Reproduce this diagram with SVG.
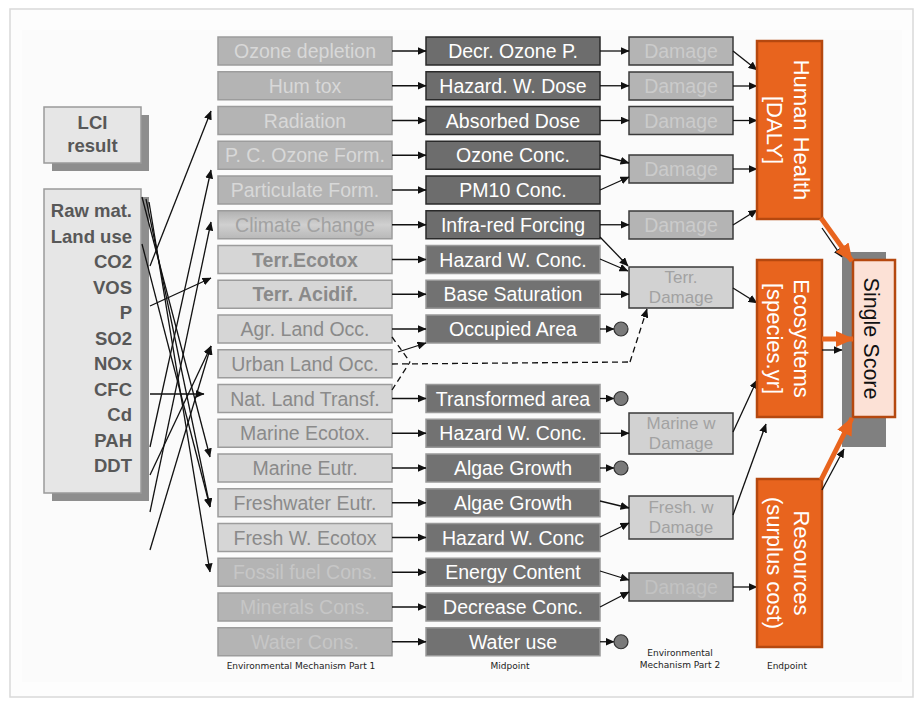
<svg xmlns="http://www.w3.org/2000/svg" width="921" height="704" viewBox="0 0 921 704">
<defs>
<marker id="ah" markerWidth="9" markerHeight="8" refX="8.5" refY="4" orient="auto" markerUnits="userSpaceOnUse"><path d="M0,0 L9,4 L0,8 Z" fill="#111"/></marker>
<marker id="oah" markerWidth="18" markerHeight="16" refX="17" refY="8" orient="auto" markerUnits="userSpaceOnUse"><path d="M0,0 L18,8 L0,16 Z" fill="#E8641E"/></marker>
<style>
text{font-family:"Liberation Sans",Arial,sans-serif;}
.c1{font-size:19.5px;text-anchor:middle;}
.c2{font-size:17px;text-anchor:middle;}
.g1 rect{fill:#b4b4b4;stroke:#9c9c9c;stroke-width:1.5}
.g1 text{fill:#d8d8d8}
.g2 rect{fill:#d6d6d6;stroke:#9c9c9c;stroke-width:1.5}
.g2 text{fill:#8a8a8a}
.g3 rect{fill:#b4b4b4;stroke:#9c9c9c;stroke-width:1.5}
.g3 text{fill:#c6c6c6}
.m rect{fill:#6d6d6d;stroke:#2a2a2a;stroke-width:1.5}
.m2 rect{fill:#727272;stroke:#999;stroke-width:1.5}
.m text,.m2 text{fill:#fff}
.d rect{fill:#b4b4b4;stroke:#3a3a3a;stroke-width:1.5}
.d text{fill:#cbcbcb}
.dl rect{fill:#d2d2d2;stroke:#3a3a3a;stroke-width:1.5}
.dl text{fill:#a2a2a2}
.ep rect{fill:#E8641E;stroke:#B5480F;stroke-width:2.5}
.ep text{fill:#fff;font-size:22px;text-anchor:middle}
.lci text{font-weight:bold;fill:#585858;font-size:18.5px}
.cap{font-family:"DejaVu Sans",sans-serif;font-size:9px;fill:#222;text-anchor:middle}
.cn line{stroke:#111;stroke-width:1.3;marker-end:url(#ah)}
.cn line.nm{marker-end:none}
.cn line.ds{stroke-dasharray:6,4}
.dot{fill:#7a7a7a;stroke:#333;stroke-width:1.2}
.or{stroke:#E8641E;stroke-width:5;marker-end:url(#oah)}
</style>
<linearGradient id="cc" x1="0" y1="0" x2="0" y2="1"><stop offset="0" stop-color="#b0b0b0"/><stop offset="0.5" stop-color="#d0d0d0"/><stop offset="1" stop-color="#b8b8b8"/></linearGradient>
</defs>
<rect x="0" y="0" width="921" height="704" fill="#ffffff"/>
<rect x="10" y="9" width="903" height="688" fill="#fdfdfd" stroke="#d9d9d9" stroke-width="1.5"/>
<rect x="22" y="30" width="880" height="652" fill="#fbfbfb"/>

<!-- LCI -->
<g id="lci-result" class="lci">
<rect x="52" y="115" width="97" height="56" fill="#8e8e8e"/>
<rect x="44" y="107" width="97" height="56" fill="#e6e6e6" stroke="#9a9a9a" stroke-width="1.5"/>
<text x="92.5" y="129" text-anchor="middle">LCI</text>
<text x="92.5" y="152" text-anchor="middle">result</text>
</g>
<g id="lci-flows" class="lci">
<rect x="52" y="197" width="97" height="304" fill="#8e8e8e"/>
<rect x="44" y="189" width="97" height="304" fill="#e6e6e6" stroke="#9a9a9a" stroke-width="1.5"/>
<g text-anchor="end">
<text x="132" y="217">Raw mat.</text>
<text x="132" y="242.5">Land use</text>
<text x="132" y="268">CO2</text>
<text x="132" y="293.5">VOS</text>
<text x="132" y="319">P</text>
<text x="132" y="344.5">SO2</text>
<text x="132" y="370">NOx</text>
<text x="132" y="395.5">CFC</text>
<text x="132" y="421">Cd</text>
<text x="132" y="446.5">PAH</text>
<text x="132" y="472">DDT</text>
</g>
</g>

<!-- Column 1 -->
<g id="ozone-depletion" class="g1"><rect x="218" y="37" width="174" height="28"/><text class="c1" x="305" y="58">Ozone depletion</text></g>
<g id="hum-tox" class="g1"><rect x="218" y="71.75" width="174" height="28"/><text class="c1" x="305" y="92.75">Hum tox</text></g>
<g id="radiation" class="g1"><rect x="218" y="106.5" width="174" height="28"/><text class="c1" x="305" y="127.5">Radiation</text></g>
<g id="pc-ozone" class="g1"><rect x="218" y="141.25" width="174" height="28"/><text class="c1" x="305" y="162.25">P. C. Ozone Form.</text></g>
<g id="particulate" class="g1"><rect x="218" y="176" width="174" height="28"/><text class="c1" x="305" y="197">Particulate Form.</text></g>
<g id="climate" class="g1"><rect x="218" y="210.75" width="174" height="28" style="fill:url(#cc)"/><text class="c1" x="305" y="231.75" style="fill:#a2a2a2">Climate Change</text></g>
<g id="terr-ecotox" class="g2"><rect x="218" y="245.5" width="174" height="28"/><text class="c1" x="305" y="266.5" font-weight="bold">Terr.Ecotox</text></g>
<g id="terr-acidif" class="g2"><rect x="218" y="280.25" width="174" height="28"/><text class="c1" x="305" y="301.25" font-weight="bold">Terr. Acidif.</text></g>
<g id="agr-land" class="g2"><rect x="218" y="315" width="174" height="28"/><text class="c1" x="305" y="336">Agr. Land Occ.</text></g>
<g id="urban-land" class="g2"><rect x="218" y="349.75" width="174" height="28"/><text class="c1" x="305" y="370.75">Urban Land Occ.</text></g>
<g id="nat-land" class="g2"><rect x="218" y="384.5" width="174" height="28"/><text class="c1" x="305" y="405.5">Nat. Land Transf.</text></g>
<g id="marine-ecotox" class="g2"><rect x="218" y="419.25" width="174" height="28"/><text class="c1" x="305" y="440.25">Marine Ecotox.</text></g>
<g id="marine-eutr" class="g2"><rect x="218" y="454" width="174" height="28"/><text class="c1" x="305" y="475">Marine Eutr.</text></g>
<g id="fresh-eutr" class="g2"><rect x="218" y="488.75" width="174" height="28"/><text class="c1" x="305" y="509.75">Freshwater Eutr.</text></g>
<g id="fresh-ecotox" class="g2"><rect x="218" y="523.5" width="174" height="28"/><text class="c1" x="305" y="544.5">Fresh W. Ecotox</text></g>
<g id="fossil" class="g3"><rect x="218" y="558.25" width="174" height="28"/><text class="c1" x="305" y="579.25">Fossil fuel Cons.</text></g>
<g id="minerals" class="g3"><rect x="218" y="593" width="174" height="28"/><text class="c1" x="305" y="614">Minerals Cons.</text></g>
<g id="water-cons" class="g3"><rect x="218" y="627.75" width="174" height="28"/><text class="c1" x="305" y="648.75">Water Cons.</text></g>

<!-- Midpoint -->
<g id="mp-ozone" class="m"><rect x="426" y="37" width="174" height="28"/><text class="c1" x="513" y="58">Decr. Ozone P.</text></g>
<g id="mp-humtox" class="m"><rect x="426" y="71.75" width="174" height="28"/><text class="c1" x="513" y="92.75">Hazard. W. Dose</text></g>
<g id="mp-rad" class="m"><rect x="426" y="106.5" width="174" height="28"/><text class="c1" x="513" y="127.5">Absorbed Dose</text></g>
<g id="mp-ozconc" class="m"><rect x="426" y="141.25" width="174" height="28"/><text class="c1" x="513" y="162.25">Ozone Conc.</text></g>
<g id="mp-pm10" class="m"><rect x="426" y="176" width="174" height="28"/><text class="c1" x="513" y="197">PM10 Conc.</text></g>
<g id="mp-infra" class="m"><rect x="426" y="210.75" width="174" height="28"/><text class="c1" x="513" y="231.75">Infra-red Forcing</text></g>
<g id="mp-terrtox" class="m2"><rect x="426" y="245.5" width="174" height="28"/><text class="c1" x="513" y="266.5">Hazard W. Conc.</text></g>
<g id="mp-base" class="m2"><rect x="426" y="280.25" width="174" height="28"/><text class="c1" x="513" y="301.25">Base Saturation</text></g>
<g id="mp-occ" class="m2"><rect x="426" y="315" width="174" height="28"/><text class="c1" x="513" y="336">Occupied Area</text></g>
<g id="mp-trans" class="m2"><rect x="426" y="384.5" width="174" height="28"/><text class="c1" x="513" y="405.5">Transformed area</text></g>
<g id="mp-marinetox" class="m2"><rect x="426" y="419.25" width="174" height="28"/><text class="c1" x="513" y="440.25">Hazard W. Conc.</text></g>
<g id="mp-algae1" class="m2"><rect x="426" y="454" width="174" height="28"/><text class="c1" x="513" y="475">Algae Growth</text></g>
<g id="mp-algae2" class="m2"><rect x="426" y="488.75" width="174" height="28"/><text class="c1" x="513" y="509.75">Algae Growth</text></g>
<g id="mp-freshtox" class="m2"><rect x="426" y="523.5" width="174" height="28"/><text class="c1" x="513" y="544.5">Hazard W. Conc</text></g>
<g id="mp-energy" class="m2"><rect x="426" y="558.25" width="174" height="28"/><text class="c1" x="513" y="579.25">Energy Content</text></g>
<g id="mp-decrease" class="m2"><rect x="426" y="593" width="174" height="28"/><text class="c1" x="513" y="614">Decrease Conc.</text></g>
<g id="mp-water" class="m2"><rect x="426" y="627.75" width="174" height="28"/><text class="c1" x="513" y="648.75">Water use</text></g>

<!-- Damage -->
<g id="dmg1" class="d"><rect x="629" y="37" width="104" height="28"/><text class="c1" x="681" y="58">Damage</text></g>
<g id="dmg2" class="d"><rect x="629" y="72" width="104" height="28"/><text class="c1" x="681" y="93">Damage</text></g>
<g id="dmg3" class="d"><rect x="629" y="106.5" width="104" height="28"/><text class="c1" x="681" y="127.5">Damage</text></g>
<g id="dmg4" class="d"><rect x="629" y="155" width="104" height="28"/><text class="c1" x="681" y="176">Damage</text></g>
<g id="dmg5" class="d"><rect x="629" y="211" width="104" height="28"/><text class="c1" x="681" y="232">Damage</text></g>
<g id="terr-damage" class="dl"><rect x="629" y="267" width="104" height="41"/><text class="c2" x="681" y="283">Terr.</text><text class="c2" x="681" y="303">Damage</text></g>
<g id="marine-damage" class="dl"><rect x="629" y="413" width="104" height="41"/><text class="c2" x="681" y="429">Marine w</text><text class="c2" x="681" y="449">Damage</text></g>
<g id="fresh-damage" class="dl"><rect x="629" y="496" width="104" height="43"/><text class="c2" x="681" y="513">Fresh. w</text><text class="c2" x="681" y="533">Damage</text></g>
<g id="res-damage" class="d"><rect x="629" y="573" width="104" height="28"/><text class="c1" x="681" y="594" style="fill:#c2c2c2">Damage</text></g>

<!-- Connectors -->
<g id="connectors" class="cn">
<line x1="150" y1="266" x2="211" y2="111"/>
<line x1="150" y1="447" x2="211" y2="170"/>
<line x1="150" y1="512" x2="211" y2="222"/>
<line x1="150" y1="306" x2="211" y2="278"/>
<line x1="150" y1="475" x2="211" y2="346"/>
<line x1="150" y1="550" x2="211" y2="346"/>
<line x1="150" y1="394" x2="204" y2="394"/>
<line x1="142" y1="197" x2="210" y2="457"/>
<line x1="146" y1="199" x2="210" y2="507"/>
<line x1="149" y1="202" x2="210" y2="572"/>
<line x1="142" y1="244" x2="210" y2="507"/>
<line x1="392" y1="51" x2="426" y2="51"/>
<line x1="392" y1="85.75" x2="426" y2="85.75"/>
<line x1="392" y1="120.5" x2="426" y2="120.5"/>
<line x1="392" y1="155.25" x2="426" y2="155.25"/>
<line x1="392" y1="190" x2="426" y2="190"/>
<line x1="392" y1="224.75" x2="426" y2="224.75"/>
<line x1="392" y1="259.5" x2="426" y2="259.5"/>
<line x1="392" y1="294.25" x2="426" y2="294.25"/>
<line x1="392" y1="329" x2="426" y2="329"/>
<line x1="398" y1="352" x2="426" y2="343"/>
<line x1="392" y1="398.5" x2="426" y2="398.5"/>
<line x1="392" y1="433.25" x2="426" y2="433.25"/>
<line x1="392" y1="468" x2="426" y2="468"/>
<line x1="392" y1="502.75" x2="426" y2="502.75"/>
<line x1="392" y1="537.5" x2="426" y2="537.5"/>
<line x1="392" y1="572.25" x2="426" y2="572.25"/>
<line x1="392" y1="607" x2="426" y2="607"/>
<line x1="392" y1="641.75" x2="426" y2="641.75"/>
<line class="nm ds" x1="392" y1="337" x2="410" y2="362"/>
<line class="nm ds" x1="392" y1="364" x2="630" y2="362"/>
<line class="nm ds" x1="392" y1="390" x2="410" y2="362"/>
<line class="ds" x1="630" y1="362" x2="647" y2="309"/>
<line x1="600" y1="329" x2="614" y2="329"/>
<line x1="600" y1="398.5" x2="614" y2="398.5"/>
<line x1="600" y1="468" x2="614" y2="468"/>
<line x1="600" y1="641.75" x2="614" y2="641.75"/>
<line x1="600" y1="51" x2="629" y2="51"/>
<line x1="600" y1="85.75" x2="629" y2="85.75"/>
<line x1="600" y1="120.5" x2="629" y2="120.5"/>
<line x1="600" y1="155" x2="629" y2="163"/>
<line x1="600" y1="190" x2="629" y2="177"/>
<line x1="600" y1="224.75" x2="629" y2="224.75"/>
<line x1="600" y1="237" x2="628" y2="266"/>
<line x1="600" y1="259" x2="628" y2="271"/>
<line x1="600" y1="294.25" x2="629" y2="294.25"/>
<line x1="600" y1="433.25" x2="629" y2="433.25"/>
<line x1="600" y1="501" x2="629" y2="508"/>
<line x1="600" y1="537" x2="629" y2="523"/>
<line x1="600" y1="571" x2="629" y2="580"/>
<line x1="600" y1="607" x2="629" y2="592"/>
<line x1="733" y1="51" x2="757" y2="70"/>
<line x1="733" y1="86" x2="757" y2="86"/>
<line x1="733" y1="120.5" x2="757" y2="120.5"/>
<line x1="733" y1="169" x2="757" y2="169"/>
<line x1="733" y1="225" x2="757" y2="210"/>
<line x1="733" y1="288" x2="757" y2="303"/>
<line x1="733" y1="432" x2="757" y2="380"/>
<line x1="733" y1="515" x2="766" y2="424"/>
<line x1="733" y1="587" x2="757" y2="587"/>
</g>
<g id="dots">
<circle class="dot" cx="621" cy="329" r="7"/>
<circle class="dot" cx="621" cy="398.5" r="7"/>
<circle class="dot" cx="621" cy="468" r="7"/>
<circle class="dot" cx="621" cy="641.75" r="7"/>
</g>

<!-- Endpoints -->
<g id="human-health" class="ep"><rect x="757" y="41" width="65" height="178"/>
<g transform="translate(789.5,130) rotate(90)"><text x="0" y="-4">Human Health</text><text x="0" y="23">[DALY]</text></g></g>
<g id="ecosystems" class="ep"><rect x="757" y="260" width="65" height="157"/>
<g transform="translate(789.5,338.5) rotate(90)"><text x="0" y="-4">Ecosystems</text><text x="0" y="23">[species.yr]</text></g></g>
<g id="resources" class="ep"><rect x="757" y="479" width="65" height="168"/>
<g transform="translate(789.5,563) rotate(90)"><text x="0" y="-4">Resources</text><text x="0" y="23">(surplus cost)</text></g></g>

<g id="single-score">
<rect x="842" y="252" width="44" height="195" fill="#808080"/>
<g class="cn">
<line x1="822" y1="228" x2="842" y2="257"/>
<line x1="822" y1="350" x2="842" y2="350"/>
<line x1="822" y1="490" x2="844" y2="449"/>
</g>
<rect x="853" y="260" width="42" height="157" fill="#FCE1D6" stroke="#B5480F" stroke-width="2.5"/>
<g transform="translate(874,338.5) rotate(90)"><text x="0" y="10" font-size="21.5" text-anchor="middle" fill="#111">Single Score</text></g>
</g>
<g id="orange-connectors">
<line class="or" x1="821" y1="218" x2="852" y2="261"/>
<line class="or" x1="822" y1="339" x2="853" y2="339"/>
<line class="or" x1="821" y1="480" x2="852" y2="418"/>
</g>

<text class="cap" x="301" y="669">Environmental Mechanism Part 1</text>
<text class="cap" x="510" y="669">Midpoint</text>
<text class="cap" x="680" y="656">Environmental</text>
<text class="cap" x="680" y="668">Mechanism Part 2</text>
<text class="cap" x="787" y="669">Endpoint</text>
</svg>
